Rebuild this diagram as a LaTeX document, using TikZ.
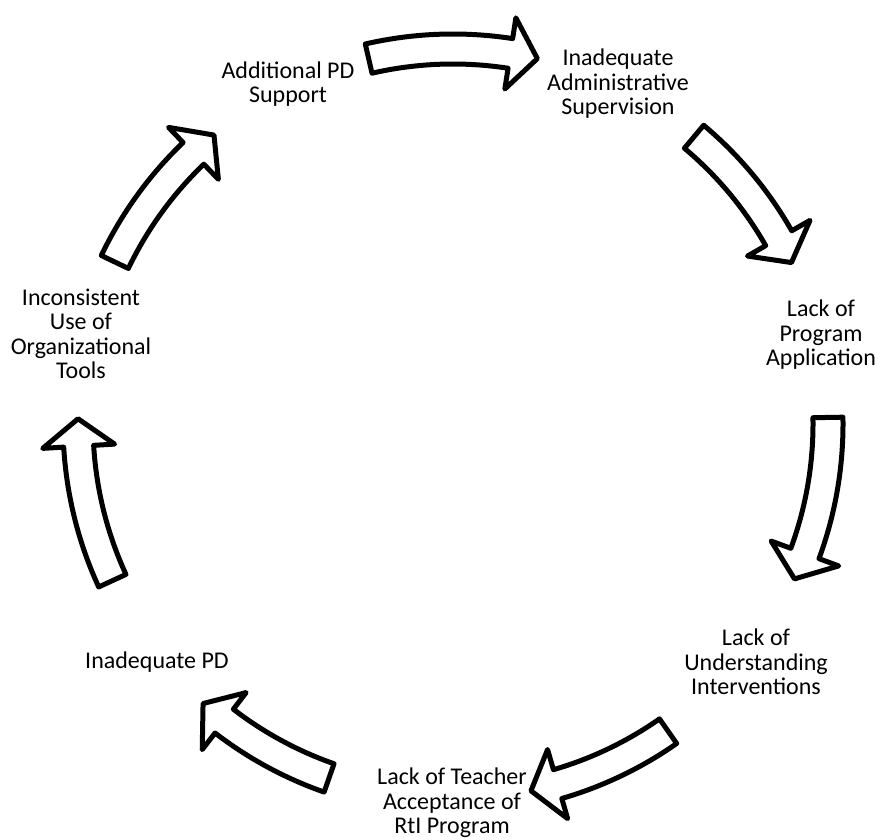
\documentclass[tikz,border=0pt]{standalone}
\usepackage{fontspec}
\setmainfont{Carlito}
\tikzset{
  blockarrow/.style={draw=black, fill=white, line width=5pt, line join=round},
  lbl/.style={align=center, inner sep=0pt, font=\fontsize{24}{24.5}\selectfont}
}
\newcommand\cycarrow[2]{%
  \pgfmathsetmacro\hb{#2+4.2}%
  \draw[blockarrow] (#1:390) arc[start angle=#1, end angle=\hb, radius=390]
    -- (\hb:411) -- (#2:375) -- (\hb:339) -- (\hb:360)
    arc[start angle=\hb, end angle=#1, radius=360] -- cycle;}
\begin{document}
\begin{tikzpicture}[x=1pt,y=1pt]
\useasboundingbox (0,0) rectangle (878,839);
\node[lbl] (n1) at (288,755) {Additional PD\\Support};
\node[lbl] (n2) at (618,755) {Inadequate\\Administrative\\Supervision};
\node[lbl] (n3) at (821,504) {Lack of\\Program\\Application};
\node[lbl] (n4) at (756,177) {Lack of\\Understanding\\Interventions};
\node[lbl] (n5) at (452,36) {Lack of Teacher\\Acceptance of\\RtI Program};
\node[lbl] (n6) at (157,177) {Inadequate PD};
\node[lbl] (n7) at (81,505) {Inconsistent\\Use of\\Organizational\\Tools};
\begin{scope}[shift={(453,415)}]
\cycarrow{103}{77}
\cycarrow{50}{25.5}
\cycarrow{1}{-24.4}
\cycarrow{-55}{-78}
\cycarrow{-109.3}{-131.8}
\cycarrow{-155.3}{-180.8}
\cycarrow{154.4}{129.6}
\end{scope}
\end{tikzpicture}
\end{document}
